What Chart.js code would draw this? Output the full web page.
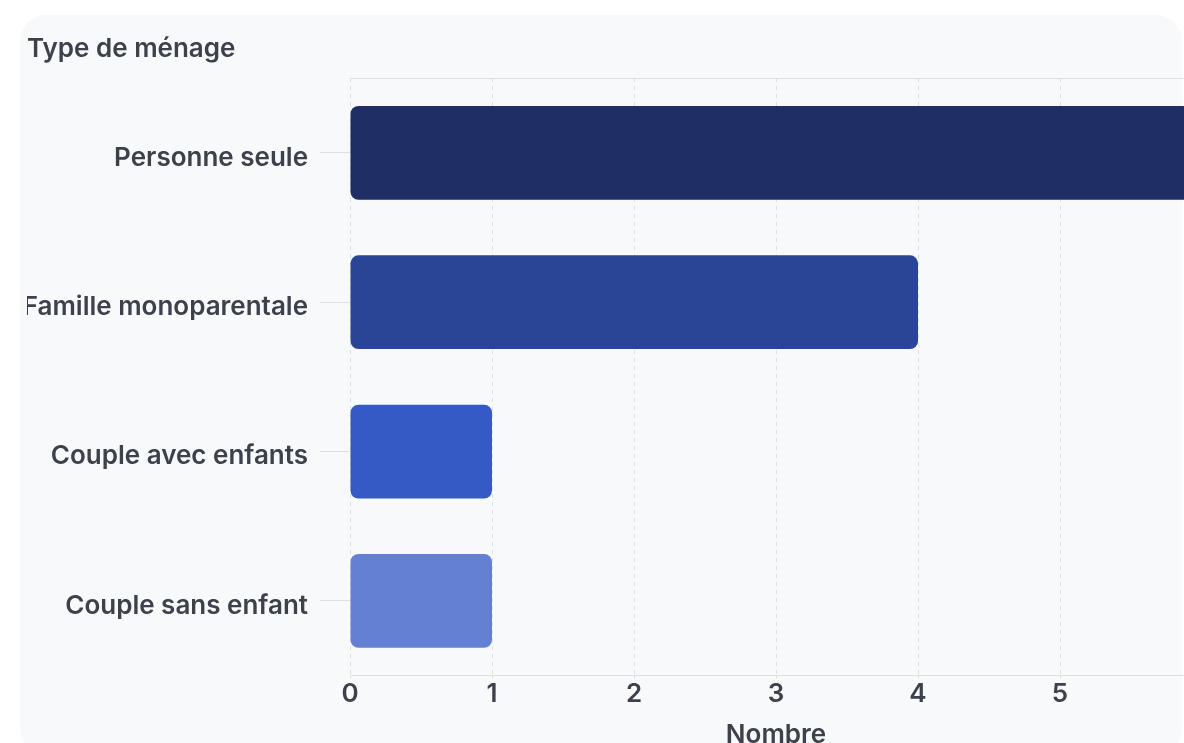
<!DOCTYPE html>
<html>
<head>
<meta charset="utf-8">
<script src="https://cdn.jsdelivr.net/npm/chart.js@4.4.1/dist/chart.umd.min.js"></script>
<style>
  html, body { margin: 0; padding: 0; background: #ffffff; overflow: hidden; width: 1184px; height: 743px; }
  #card { position: absolute; left: 20px; top: 15px; width: 1162px; height: 740px; background: #f8f9fb; border-radius: 26px; }
  #wrap { position: absolute; left: 0; top: 0; width: 1230px; height: 755px; }
</style>
</head>
<body>
<div id="card"></div>
<div id="wrap"><canvas id="c" width="1230" height="755"></canvas></div>
<script>
const categories = ["Personne seule", "Famille monoparentale", "Couple avec enfants", "Couple sans enfant"];
const values = [6, 4, 1, 1];
const barColors = ["#1f2e64", "#2a4595", "#3559c5", "#6480d3"];
const xTicks = [0, 1, 2, 3, 4, 5, 6];
const chartTitle = "Type de ménage";
const xTitle = "Nombre";

const textColor = "#3d414b";
const gridColor = "#dcdfe5";
const font = { family: "Inter, 'Noto Sans', sans-serif", weight: "600" };

new Chart(document.getElementById("c"), {
  type: "bar",
  data: {
    labels: categories,
    datasets: [{
      data: values,
      backgroundColor: barColors,
      borderRadius: 8,
      borderSkipped: false,
      barPercentage: 0.785,
      categoryPercentage: 0.8
    }]
  },
  options: {
    indexAxis: "y",
    responsive: false,
    animation: false,
    layout: { padding: { left: 27, top: 34, right: 28, bottom: 0 } },
    plugins: {
      legend: { display: false },
      tooltip: { enabled: false },
      title: {
        display: true,
        text: chartTitle,
        align: "start",
        color: textColor,
        font: { ...font, size: 26 },
        padding: { top: 0, bottom: 5 }
      }
    },
    scales: {
      x: {
        type: "linear",
        min: xTicks[0],
        max: xTicks[xTicks.length - 1],
        afterBuildTicks: (scale) => { scale.ticks = xTicks.map(v => ({ value: v })); },
        ticks: { color: textColor, font: { ...font, size: 26 }, padding: 0 },
        grid: { color: gridColor, lineWidth: 1, tickLength: 3 },
        border: { display: true, color: gridColor, dash: [4, 4] },
        title: { display: true, text: xTitle, color: textColor, font: { ...font, size: 26 }, padding: { top: 10, bottom: 4 } }
      },
      x2: {
        type: "linear",
        position: "top",
        min: xTicks[0],
        max: xTicks[xTicks.length - 1],
        ticks: { display: false },
        grid: { display: false },
        border: { display: true, color: gridColor, dash: [4, 4] }
      },
      y: {
        grid: { display: true, offset: false, color: gridColor, tickLength: 30, drawOnChartArea: false },
        border: { display: false, dash: [4, 4] },
        ticks: { color: textColor, font: { ...font, size: 26 }, padding: 12, labelOffset: 5 },
        afterFit: (scale) => { scale.width = 323; }
      }
    }
  }
});
</script>
</body>
</html>
